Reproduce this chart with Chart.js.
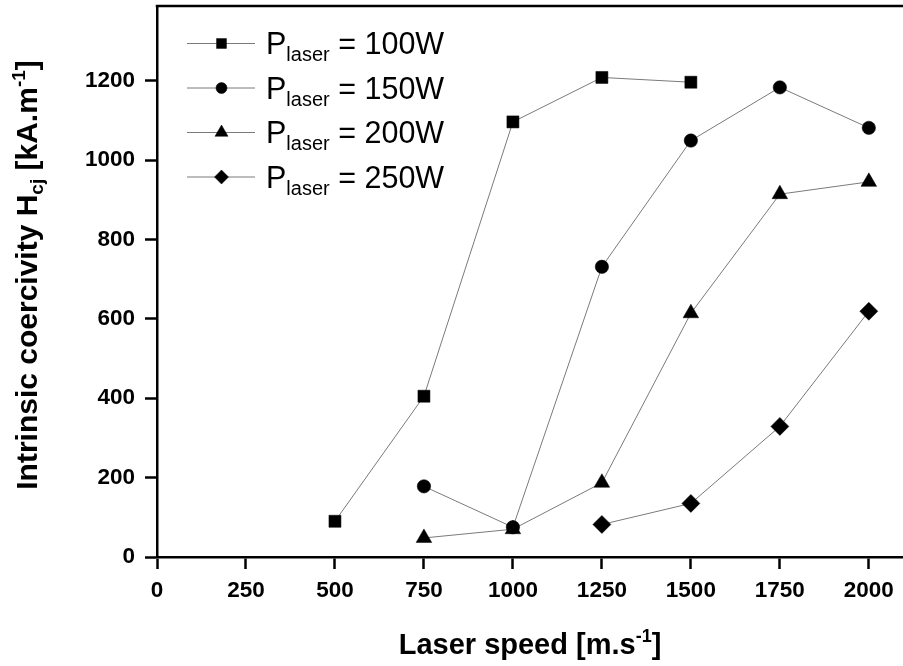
<!DOCTYPE html>
<html><head><meta charset="utf-8">
<script src="https://cdn.jsdelivr.net/npm/chart.js@4/dist/chart.umd.min.js"></script>
<style>html,body{margin:0;padding:0;background:#fff}canvas{display:block}</style>
</head><body>
<canvas id="c" width="903" height="666"></canvas>
<script>
// ---- data ----
const speeds100 = [500, 750, 1000, 1250, 1500];
const hcj100    = [90, 405, 1096, 1208, 1196];
const speeds150 = [750, 1000, 1250, 1500, 1750, 2000];
const hcj150    = [178, 75, 731, 1049, 1183, 1081];
const speeds200 = [750, 1000, 1250, 1500, 1750, 2000];
const hcj200    = [48, 70, 187, 614, 914, 945];
const speeds250 = [1250, 1500, 1750, 2000];
const hcj250    = [82, 135, 329, 619];
const powers    = ['100W', '150W', '200W', '250W'];
const xTickValues = [0, 250, 500, 750, 1000, 1250, 1500, 1750, 2000];
const yTickValues = [0, 200, 400, 600, 800, 1000, 1200];

const FONT = "'Liberation Sans', Arial, Helvetica, sans-serif";
const styles = [
  {pointStyle: 'rect', radius: 8.5, legendRadius: 7},
  {pointStyle: 'circle', radius: 6.7, legendRadius: 5.5},
  {pointStyle: 'triangle', radius: 9, legendRadius: 7.5},
  {pointStyle: 'rectRot', radius: 9, legendRadius: 7}
];
function pts(xs, ys) { return xs.map((x, i) => ({x: x, y: ys[i]})); }
const seriesData = [pts(speeds100, hcj100), pts(speeds150, hcj150), pts(speeds200, hcj200), pts(speeds250, hcj250)];

const datasets = seriesData.map((d, i) => ({
  label: 'Plaser = ' + powers[i],
  data: d,
  showLine: true,
  borderColor: '#7a7a7a',
  borderWidth: 1,
  pointStyle: styles[i].pointStyle,
  pointRadius: styles[i].radius,
  pointHoverRadius: styles[i].radius,
  pointBackgroundColor: '#000',
  pointBorderColor: '#000',
  pointBorderWidth: 0.5,
  tension: 0
}));

function drawMarker(ctx, style, r, x, y) {
  if (Chart.helpers && Chart.helpers.drawPoint) {
    ctx.fillStyle = '#000'; ctx.strokeStyle = '#000'; ctx.lineWidth = 0.5;
    Chart.helpers.drawPoint(ctx, {pointStyle: style, radius: r, borderWidth: 0.5, rotation: 0}, x, y);
  }
}

const framePlugin = {
  id: 'frame',
  afterDraw(chart) {
    const ctx = chart.ctx, a = chart.chartArea;
    ctx.save();
    // top frame line
    ctx.strokeStyle = '#000'; ctx.lineWidth = 2.5;
    ctx.beginPath(); ctx.moveTo(a.left - 1.25, a.top); ctx.lineTo(a.right, a.top); ctx.stroke();

    // legend
    const rows = [43.5, 88, 132.5, 177];
    powers.forEach((p, i) => {
      const y = rows[i];
      ctx.strokeStyle = '#7a7a7a'; ctx.lineWidth = 1;
      ctx.beginPath(); ctx.moveTo(187, y); ctx.lineTo(255, y); ctx.stroke();
      drawMarker(ctx, styles[i].pointStyle, styles[i].legendRadius, 221.5, y);
      ctx.fillStyle = '#000';
      ctx.textAlign = 'left'; ctx.textBaseline = 'alphabetic';
      let x = 266;
      ctx.font = '30.5px ' + FONT;
      ctx.fillText('P', x, y + 10.5);
      x += ctx.measureText('P').width;
      ctx.font = '20px ' + FONT;
      ctx.fillText('laser', x, y + 17.5);
      x += ctx.measureText('laser').width;
      ctx.font = '30.5px ' + FONT;
      ctx.fillText(' = ' + p, x, y + 10.5);
    });

    // x axis title
    ctx.fillStyle = '#000';
    const big = 'bold 29px ' + FONT, small = 'bold 18px ' + FONT;
    ctx.font = big; const w1 = ctx.measureText('Laser speed [m.s').width;
    ctx.font = small; const w2 = ctx.measureText('-1').width;
    ctx.font = big; const w3 = ctx.measureText(']').width;
    const tot = w1 + w2 + w3;
    let xs = (a.left + a.right) / 2 - tot / 2;
    const by = 654;
    ctx.font = big; ctx.fillText('Laser speed [m.s', xs, by);
    ctx.font = small; ctx.fillText('-1', xs + w1, by - 12);
    ctx.font = big; ctx.fillText(']', xs + w1 + w2, by);

    // y axis title (rotated)
    const ybig = 'bold 30px ' + FONT, ysmall = 'bold 19px ' + FONT;
    ctx.save();
    ctx.translate(37, 275);
    ctx.rotate(-Math.PI / 2);
    const parts = [
      {t: 'Intrinsic coercivity H', f: ybig, dy: 0},
      {t: 'cj', f: ysmall, dy: 6},
      {t: ' [kA.m', f: ybig, dy: 0},
      {t: '-1', f: ysmall, dy: -12},
      {t: ']', f: ybig, dy: 0}
    ];
    let total = 0;
    parts.forEach(pp => { ctx.font = pp.f; pp.w = ctx.measureText(pp.t).width; total += pp.w; });
    let px = -total / 2;
    parts.forEach(pp => { ctx.font = pp.f; ctx.fillText(pp.t, px, pp.dy); px += pp.w; });
    ctx.restore();
    ctx.restore();
  }
};

new Chart(document.getElementById('c'), {
  type: 'scatter',
  data: {datasets: datasets},
  options: {
    responsive: false,
    animation: false,
    devicePixelRatio: 1,
    layout: {autoPadding: false, padding: {top: 6, right: 0, left: 0, bottom: 0}},
    plugins: {legend: {display: false}, tooltip: {enabled: false}},
    scales: {
      x: {
        type: 'linear', min: 0, max: 2096,
        afterBuildTicks(s) { s.ticks = xTickValues.map(v => ({value: v})); },
        afterFit(s) { s.height = 109; s.paddingLeft = 0; s.paddingRight = 0; },
        border: {display: true, color: '#000', width: 2.5},
        grid: {display: true, drawOnChartArea: false, drawTicks: true, tickLength: 12, tickWidth: 2.5, tickColor: '#000'},
        ticks: {color: '#000', font: {family: FONT, size: 22.5, weight: 'bold'}, padding: 8, maxRotation: 0, autoSkip: false,
                callback: v => String(v)}
      },
      y: {
        type: 'linear', min: 0, max: 1388,
        afterBuildTicks(s) { s.ticks = yTickValues.map(v => ({value: v})); },
        afterFit(s) { s.width = 157; s.paddingTop = 0; s.paddingBottom = 0; },
        border: {display: true, color: '#000', width: 2.5},
        grid: {display: true, drawOnChartArea: false, drawTicks: true, tickLength: 12, tickWidth: 2.5, tickColor: '#000'},
        ticks: {color: '#000', font: {family: FONT, size: 22.5, weight: 'bold'}, padding: 10, autoSkip: false,
                callback: v => String(v)}
      }
    }
  },
  plugins: [framePlugin]
});
</script>
</body></html>
